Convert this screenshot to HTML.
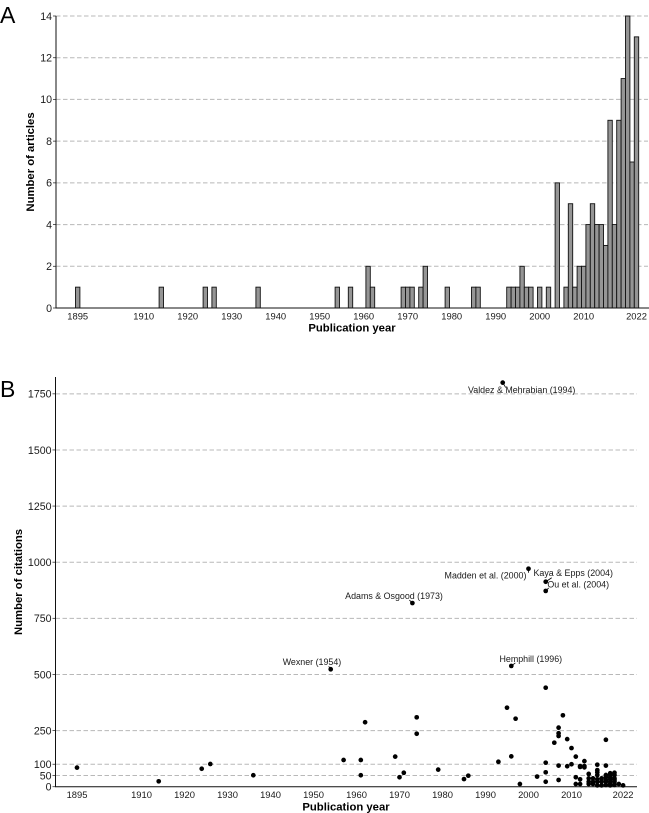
<!DOCTYPE html>
<html>
<head>
<meta charset="utf-8">
<title>Publications and citations by year</title>
<style>
html,body{margin:0;padding:0;background:#fff;width:649px;height:813px;overflow:hidden}
svg{display:block}
text{font-family:"Liberation Sans",Arial,sans-serif;fill:#1a1a1a}
</style>
</head>
<body>
<svg id="fig" xmlns="http://www.w3.org/2000/svg" width="649" height="813" viewBox="0 0 649 813">
  <text x="0" y="23" font-size="23" style="fill:#000">A</text>
  <text x="0" y="397" font-size="23" style="fill:#000">B</text>
  <text x="352" y="331.5" text-anchor="middle" font-size="11.3" font-weight="bold" style="fill:#000">Publication year</text>
  <text transform="translate(34,162) rotate(-90)" text-anchor="middle" font-size="11.3" font-weight="bold" style="fill:#000">Number of articles</text>
  <text x="346" y="810.5" text-anchor="middle" font-size="11.3" font-weight="bold" style="fill:#000">Publication year</text>
  <text transform="translate(22,582) rotate(-90)" text-anchor="middle" font-size="11.3" font-weight="bold" style="fill:#000">Number of citations</text>
</svg>
<script>
// Panel A data
const articleYears = [1895,1914,1924,1926,1936,1954,1957,1961,1962,1969,1970,1971,1973,1974,1979,1985,1986,1993,1994,1995,1996,1997,1998,2000,2002,2004,2006,2007,2008,2009,2010,2011,2012,2013,2014,2015,2016,2017,2018,2019,2020,2021,2022];
const articleCounts = [1,1,1,1,1,1,1,2,1,1,1,1,1,2,1,1,1,1,1,1,2,1,1,1,1,6,1,5,1,2,2,4,5,4,4,3,9,4,9,11,14,7,13];
const articleYTicks = [0,2,4,6,8,10,12,14];
const yearTicks = [1895,1910,1920,1930,1940,1950,1960,1970,1980,1990,2000,2010,2022];

// Panel B data
const citationYears = [1895,1914,1924,1926,1936,1954,1957,1961,1961,1962,1969,1970,1971,1973,1974,1974,1979,1985,1986,1993,1994,1995,1996,1996,1997,1998,2000,2002,2004,2004,2004,2004,2004,2004,2006,2007,2007,2007,2007,2007,2008,2009,2009,2010,2010,2011,2011,2011,2012,2012,2012,2012,2013,2013,2013,2014,2014,2014,2014,2015,2015,2015,2016,2016,2016,2016,2016,2016,2016,2017,2017,2017,2018,2018,2018,2018,2018,2018,2018,2019,2019,2019,2019,2019,2019,2019,2020,2020,2020,2020,2020,2020,2021,2022];
const citationCounts = [85,24,80,101,51,523,119,119,51,287,134,42,62,818,309,236,76,34,49,111,1800,352,538,135,303,12,971,45,441,913,872,107,64,22,196,263,238,226,94,30,318,212,91,172,100,134,42,12,92,88,33,12,114,92,86,57,37,22,12,37,22,12,98,74,64,52,33,22,6,37,22,6,209,94,52,42,30,22,8,60,52,42,33,22,12,6,62,52,37,30,22,8,12,6];
const citationYTicks = [0,50,100,250,500,750,1000,1250,1500,1750];

const fig = document.getElementById('fig');
const NS = 'http://www.w3.org/2000/svg';
function make(tag, props, text) {
  const el = document.createElementNS(NS, tag);
  for (const k in props) el.setAttribute(k, props[k]);
  if (text !== undefined) el.textContent = text;
  fig.appendChild(el);
  return el;
}

// Axis functions
const xA = y => 77.7 + (y - 1895) * 4.4;
const yA = v => 308 - v * (292 / 14);
const xB = y => 77 + (y - 1895) * 4.3;
const yB = v => 786.7 - v * 0.2245;

// Panel A grid and y ticks
articleYTicks.forEach(t => {
  if (t > 0) {
    const g = make('line', {x1:56, x2:648, y1:yA(t), y2:yA(t), stroke:'#b8b8b8', 'stroke-width':1, 'stroke-dasharray':'4.5 2.5'});
    
    
  }
  const m = make('line', {x1:53, x2:56, y1:yA(t), y2:yA(t), stroke:'#333', 'stroke-width':0.8});
  
  
  const l = make('text', {x:52, y:yA(t) + 3.8, 'text-anchor':'end', 'font-size':10.6}, String(t));
  
  
});

// Panel A bars
const barW = 4.4;
articleYears.forEach((yr, i) => {
  const r = make('rect', {x:xA(yr) - barW / 2, y:yA(articleCounts[i]), width:barW, height:yA(0) - yA(articleCounts[i]), fill:'#959595', stroke:'#111', 'stroke-width':0.9});
  
  
});

// Panel A axes
const axA1 = make('line', {x1:56, x2:56, y1:16, y2:308, stroke:'#111', 'stroke-width':1});


const axA2 = make('line', {x1:55.5, x2:649, y1:308, y2:308, stroke:'#111', 'stroke-width':1});


yearTicks.forEach(t => {
  const l = make('text', {x:xA(t), y:319.5, 'text-anchor':'middle', 'font-size':9.4}, String(t));
  
  
});

// Panel B grid and y ticks
citationYTicks.forEach(t => {
  if (t > 0) {
    const g = make('line', {x1:55.5, x2:637, y1:yB(t), y2:yB(t), stroke:'#b8b8b8', 'stroke-width':1, 'stroke-dasharray':'4.5 2.5'});
    
    
  }
  const m = make('line', {x1:52.5, x2:55.5, y1:yB(t), y2:yB(t), stroke:'#333', 'stroke-width':0.8});
  
  
  const l = make('text', {x:51.5, y:yB(t) + 3.8, 'text-anchor':'end', 'font-size':10.6}, String(t));
  
  
});

// Panel B axes
const axB1 = make('line', {x1:55.5, x2:55.5, y1:377, y2:787, stroke:'#111', 'stroke-width':1});


const axB2 = make('line', {x1:55, x2:637, y1:786.7, y2:786.7, stroke:'#111', 'stroke-width':1});


yearTicks.forEach(t => {
  const l = make('text', {x:xB(t), y:798, 'text-anchor':'middle', 'font-size':9.4}, String(t));
  
  
});

// Panel B points
citationYears.forEach((yr, i) => {
  const c = make('circle', {cx:xB(yr), cy:yB(citationCounts[i]), r:2.35, fill:'#000'});
  
  
});

// Panel B annotations, anchored to their data point
function annotate(name, text, yr, val, dx, dy, lx, ly) {
  const px = xB(yr), py = yB(val);
  const s = make('line', {x1:px, y1:py, x2:px + lx, y2:py + ly, stroke:'#000', 'stroke-width':0.8});
  
  
  const t = make('text', {x:px + dx, y:py + dy, 'text-anchor':'middle', 'font-size':8.9}, text);
  
  
}
annotate('valdez-mehrabian', 'Valdez & Mehrabian (1994)', 1994, 1800, 19, 10.5, 3, 5);
annotate('madden', 'Madden et al. (2000)', 2000, 971, -43, 10, 0, 4);
annotate('kaya-epps', 'Kaya & Epps (2004)', 2004, 913, 27.5, -5.5, 6, -4);
annotate('ou', 'Ou et al. (2004)', 2004, 872, 32.5, -3.5, 3, -3);
annotate('adams-osgood', 'Adams & Osgood (1973)', 1973, 818, -18.4, -4, -3, -3);
annotate('wexner', 'Wexner (1954)', 1954, 523, -18.7, -4.3, -2, -3);
annotate('hemphill', 'Hemphill (1996)', 1996, 538, 19.5, -4, 4, -3);
</script>
</body>
</html>
